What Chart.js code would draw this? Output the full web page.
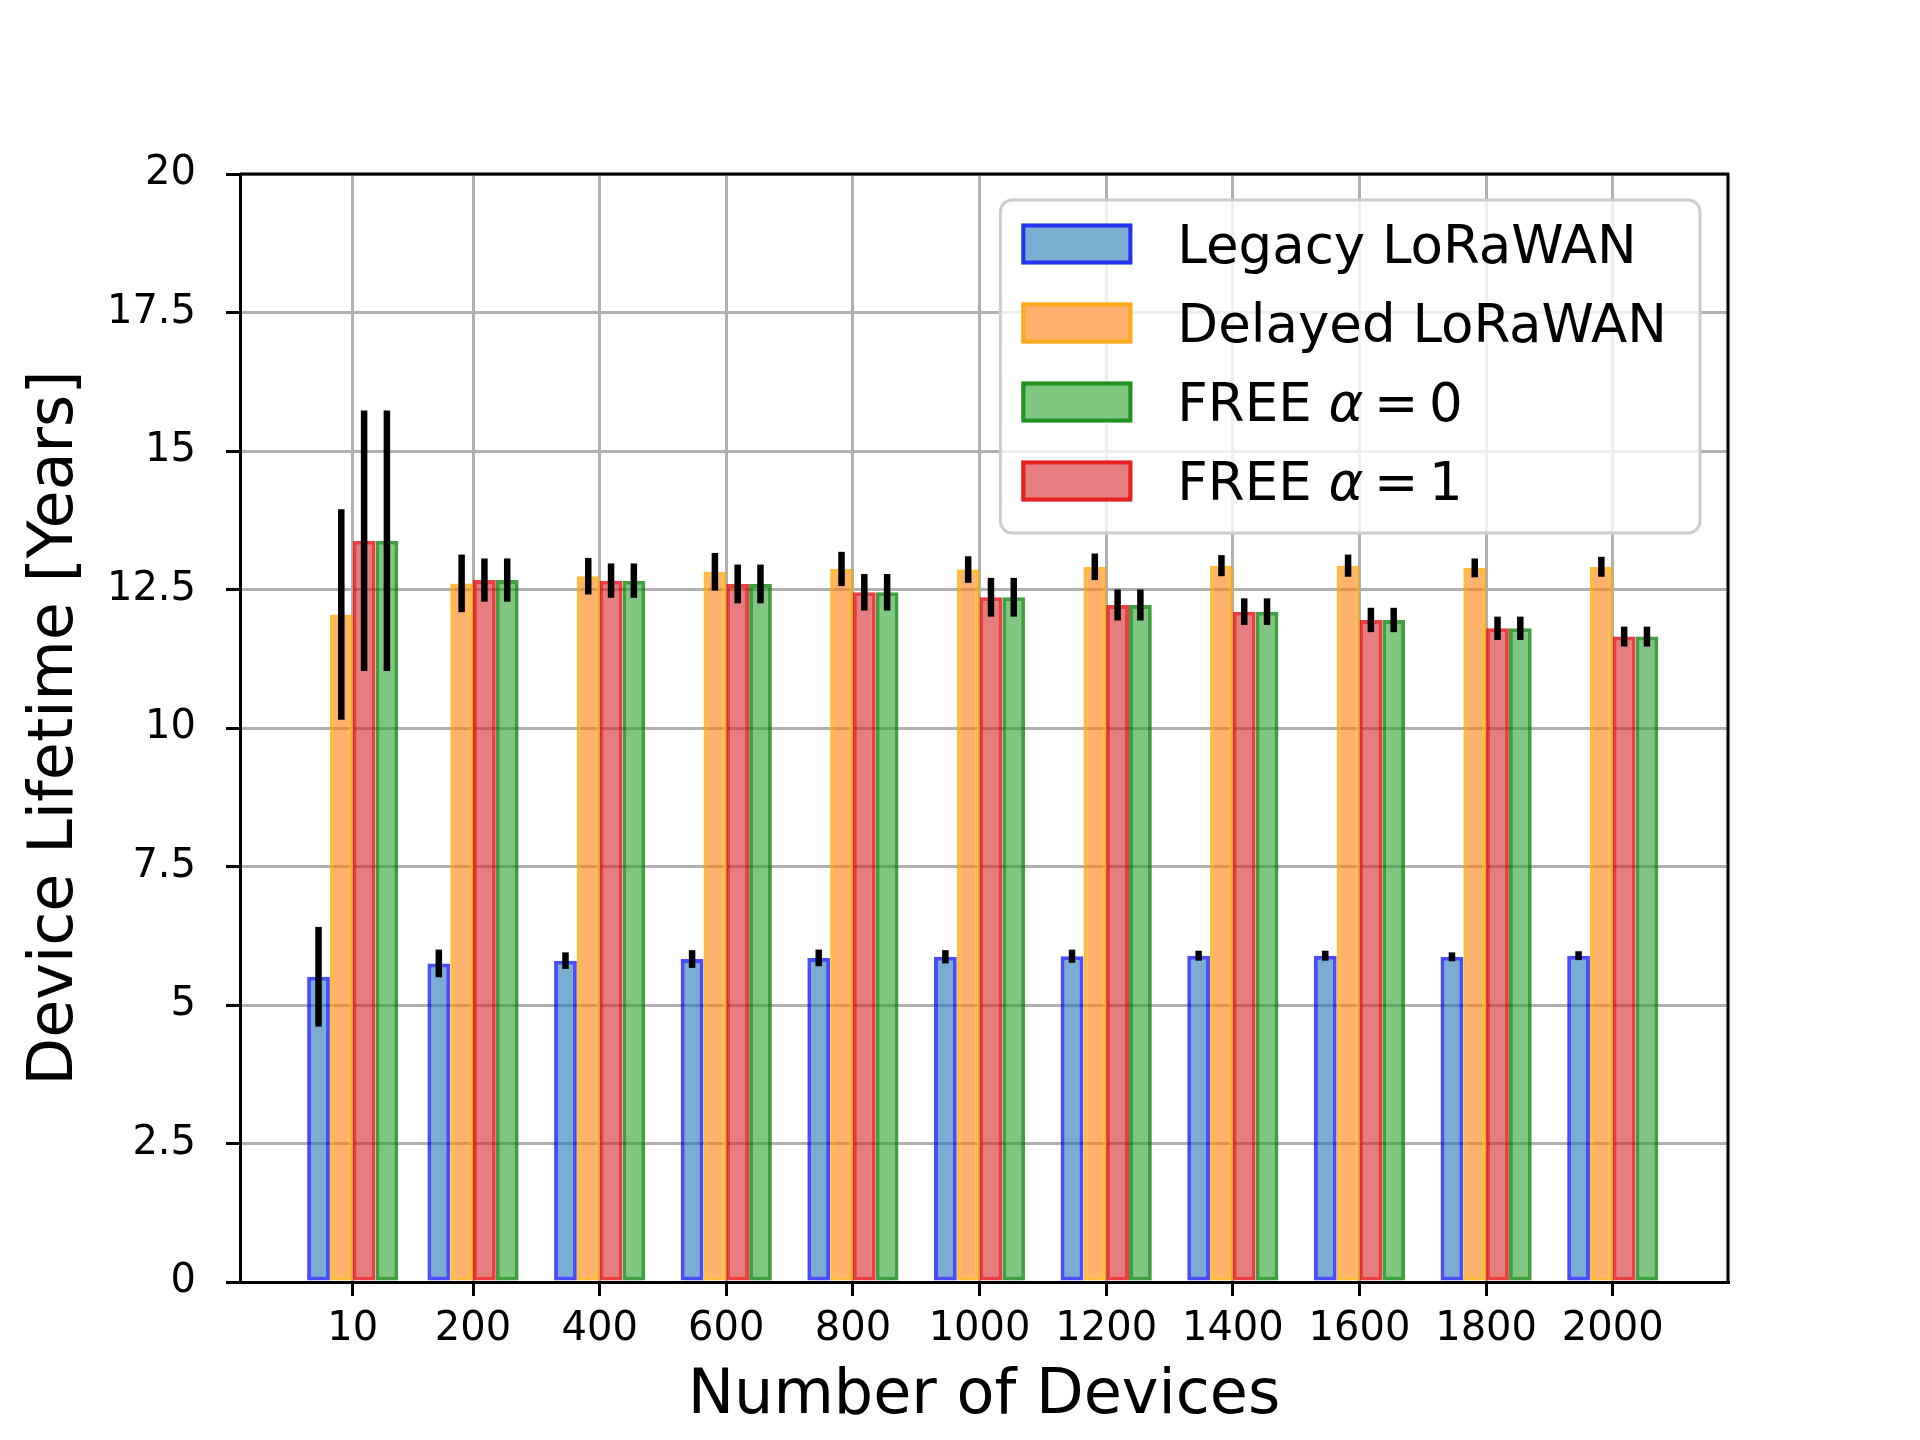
<!DOCTYPE html>
<html>
<head>
<meta charset="utf-8">
<script src="https://cdn.jsdelivr.net/npm/chart.js@4.4.1/dist/chart.umd.min.js"></script>
<style>
    body { margin: 0; background: #fff; }
    canvas { display: block; }
</style>
</head>
<body>
<canvas id="lifetimeChart" width="1920" height="1440"></canvas>
<script>
// data
const devices = [10, 200, 400, 600, 800, 1000, 1200, 1400, 1600, 1800, 2000];
const xTicks = [10, 200, 400, 600, 800, 1000, 1200, 1400, 1600, 1800, 2000];
const yTicks = [0, 2.5, 5, 7.5, 10, 12.5, 15, 17.5, 20];

const legacy = [5.51, 5.75, 5.80, 5.83, 5.85, 5.87, 5.88, 5.89, 5.89, 5.87, 5.89];
const legacyErr = [0.90, 0.25, 0.15, 0.16, 0.15, 0.12, 0.12, 0.09, 0.09, 0.08, 0.08];

const delayed = [12.05, 12.61, 12.74, 12.82, 12.87, 12.86, 12.91, 12.93, 12.93, 12.89, 12.91];
const delayedErr = [1.90, 0.52, 0.33, 0.34, 0.31, 0.24, 0.24, 0.19, 0.20, 0.17, 0.18];

const free0 = [13.38, 12.67, 12.66, 12.60, 12.45, 12.36, 12.22, 12.10, 11.95, 11.80, 11.65];
const free0Err = [2.35, 0.39, 0.31, 0.35, 0.33, 0.35, 0.28, 0.24, 0.22, 0.21, 0.18];

const free1 = [13.38, 12.67, 12.66, 12.60, 12.45, 12.36, 12.22, 12.10, 11.95, 11.80, 11.65];
const free1Err = [2.35, 0.39, 0.31, 0.35, 0.33, 0.35, 0.28, 0.24, 0.22, 0.21, 0.18];

const seriesNames = ['Legacy LoRaWAN', 'Delayed LoRaWAN', 'FREE α = 0', 'FREE α = 1'];

// width of one bar in x units, 4 bars per group
const barUnits = 36;
const minGap = 190;

const toPoints = (arr) => devices.map((x, i) => ({ x: x, y: arr[i] }));

Chart.defaults.font.family = '"DejaVu Sans"';
Chart.defaults.color = '#000';

// error bars over the bars (and over the grid)
const errorBars = {
    id: 'errorBars',
    afterDraw(chart) {
        const ctx = chart.ctx;
        const yScale = chart.scales.y;
        ctx.save();
        ctx.strokeStyle = '#000';
        ctx.lineWidth = 6.5;
        chart.data.datasets.forEach((ds, i) => {
            const meta = chart.getDatasetMeta(i);
            meta.data.forEach((bar, j) => {
                const v = ds.data[j].y;
                const e = ds.err[j];
                ctx.beginPath();
                ctx.moveTo(bar.x, yScale.getPixelForValue(v - e));
                ctx.lineTo(bar.x, yScale.getPixelForValue(v + e));
                ctx.stroke();
            });
        });
        // top and right spines
        const a = chart.chartArea;
        ctx.lineWidth = 3;
        ctx.beginPath();
        ctx.moveTo(a.left, a.top);
        ctx.lineTo(a.right, a.top);
        ctx.lineTo(a.right, a.bottom);
        ctx.stroke();
        ctx.restore();
    }
};

// label with an italic alpha and tight spacing round "="
function drawLabel(ctx, text, x, y, size, draw) {
    const normal = size + 'px "DejaVu Sans"';
    const parts = text.split('α');
    let w = 0;
    ctx.font = normal;
    if (draw) ctx.fillText(parts[0], x, y);
    w += ctx.measureText(parts[0]).width;
    if (parts.length > 1) {
        ctx.font = 'italic ' + normal;
        if (draw) ctx.fillText('α', x + w, y);
        w += ctx.measureText('α').width;
        ctx.font = normal;
        parts[1].trim().split(' ').forEach((tok) => {
            w += size * 0.2;
            if (draw) ctx.fillText(tok, x + w, y);
            w += ctx.measureText(tok).width;
        });
    }
    return w;
}

const boxLegend = {
    id: 'boxLegend',
    afterDraw(chart) {
        const ctx = chart.ctx;
        const area = chart.chartArea;
        const size = 53;
        const order = ['Legacy LoRaWAN', 'Delayed LoRaWAN', 'FREE α = 0', 'FREE α = 1'];
        const items = order.map(name => chart.data.datasets.find(d => d.label === name));

        ctx.save();
        const textW = Math.max(...items.map(d => drawLabel(ctx, d.label, 0, 0, size, false)));
        const boxW = 177 + textW + 33;
        const boxH = 333;
        const right = area.right - 28;
        const left = right - boxW;
        const top = area.top + 26;

        ctx.beginPath();
        ctx.roundRect(left, top, boxW, boxH, 12);
        ctx.fillStyle = 'rgba(255,255,255,0.8)';
        ctx.fill();
        ctx.strokeStyle = '#cccccc';
        ctx.lineWidth = 3;
        ctx.stroke();

        items.forEach((d, i) => {
            const cy = top + 44 + i * 79;
            ctx.fillStyle = '#fff';
            ctx.fillRect(left + 21, cy - 20.5, 111, 41);
            ctx.fillStyle = d.backgroundColor;
            ctx.fillRect(left + 21, cy - 20.5, 111, 41);
            ctx.strokeStyle = d.borderColor;
            ctx.lineWidth = 4;
            ctx.strokeRect(left + 23, cy - 18.5, 107, 37);
            ctx.fillStyle = '#000';
            ctx.textBaseline = 'alphabetic';
            drawLabel(ctx, d.label, left + 177, cy + 19.3, size, true);
        });
        ctx.restore();
    }
};

const gridStyle = {
    color: '#b0b0b0',
    lineWidth: 3,
    tickColor: '#000',
    tickWidth: 3,
    tickLength: 14,
    offset: false
};

const ctxLifetime = document.getElementById('lifetimeChart').getContext('2d');

new Chart(ctxLifetime, {
    type: 'bar',
    data: {
        datasets: [{
            label: seriesNames[0],
            data: toPoints(legacy),
            err: legacyErr,
            backgroundColor: 'rgba(31, 119, 180, 0.6)',
            borderColor: 'rgba(0, 0, 255, 0.7)',
            borderWidth: 4
        }, {
            label: seriesNames[1],
            data: toPoints(delayed),
            err: delayedErr,
            backgroundColor: 'rgba(255, 127, 14, 0.6)',
            borderColor: 'rgba(255, 165, 0, 0.75)',
            borderWidth: 4
        }, {
            label: seriesNames[3],
            data: toPoints(free1),
            err: free1Err,
            backgroundColor: 'rgba(214, 39, 40, 0.6)',
            borderColor: 'rgba(230, 0, 0, 0.75)',
            borderWidth: 4
        }, {
            label: seriesNames[2],
            data: toPoints(free0),
            err: free0Err,
            backgroundColor: 'rgba(44, 160, 44, 0.6)',
            borderColor: 'rgba(0, 128, 0, 0.75)',
            borderWidth: 4
        }]
    },
    options: {
        responsive: false,
        animation: false,
        layout: {
            padding: { top: 174, right: 192, left: 0, bottom: 0 }
        },
        datasets: {
            bar: {
                categoryPercentage: (4 * barUnits) / minGap,
                barPercentage: 1,
                borderSkipped: false
            }
        },
        scales: {
            x: {
                type: 'linear',
                min: -168,
                max: 2182,
                offset: false,
                z: 1,
                afterBuildTicks: (s) => { s.ticks = xTicks.map(v => ({ value: v })); },
                afterFit: (s) => { s.height = 158; },
                ticks: {
                    callback: (v) => String(v),
                    font: { size: 40 },
                    color: '#000',
                    padding: 10,
                    maxRotation: 0,
                    autoSkip: false
                },
                grid: gridStyle,
                border: { color: '#000', width: 3 },
                title: {
                    display: true,
                    text: 'Number of Devices',
                    font: { size: 62 },
                    color: '#000',
                    padding: { top: 0, bottom: 6 }
                }
            },
            y: {
                min: 0,
                max: 20,
                z: 1,
                afterBuildTicks: (s) => { s.ticks = yTicks.map(v => ({ value: v })); },
                afterFit: (s) => { s.width = 240; },
                ticks: {
                    callback: (v) => String(v),
                    font: { size: 40 },
                    color: '#000',
                    padding: 30
                },
                grid: gridStyle,
                border: { color: '#000', width: 3 },
                title: {
                    display: true,
                    text: 'Device Lifetime [Years]',
                    font: { size: 62 },
                    color: '#000',
                    padding: { top: 19, bottom: 0 }
                }
            }
        },
        plugins: {
            legend: { display: false },
            tooltip: { enabled: false }
        }
    },
    plugins: [errorBars, boxLegend]
});
</script>
</body>
</html>
